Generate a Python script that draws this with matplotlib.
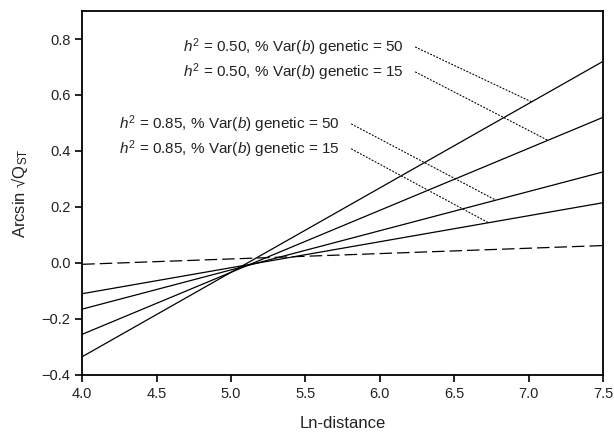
import matplotlib
matplotlib.use("Agg")
import matplotlib.pyplot as plt

plt.rcParams['font.family'] = ['Liberation Sans', 'DejaVu Sans']
plt.rcParams['mathtext.fontset'] = 'custom'
plt.rcParams['mathtext.rm'] = 'Liberation Sans'
plt.rcParams['mathtext.it'] = 'Liberation Sans:italic'

# line ends (Ln-distance 4.0 and 7.5)
x_ends = [4.0, 7.5]
h50_g50 = [-0.335, 0.72]
h50_g15 = [-0.255, 0.52]
h85_g50 = [-0.165, 0.325]
h85_g15 = [-0.11, 0.215]
neutral = [-0.005, 0.062]

labels = [r'$h^2$ = 0.50, % Var($b$) genetic = 50',
          r'$h^2$ = 0.50, % Var($b$) genetic = 15',
          r'$h^2$ = 0.85, % Var($b$) genetic = 50',
          r'$h^2$ = 0.85, % Var($b$) genetic = 15']
series = [h50_g50, h50_g15, h85_g50, h85_g15]
label_xy = [(6.16, 0.771), (6.16, 0.682), (5.73, 0.496), (5.73, 0.407)]
leader_x = [7.02, 7.13, 6.78, 6.73]

fig = plt.figure(figsize=(6.14, 4.41), dpi=100)
ax = fig.add_axes([0.134, 0.150, 0.848, 0.825])

for ys in series:
    ax.plot(x_ends, ys, color='black', lw=0.9)
ax.plot(x_ends, neutral, color='black', lw=0.9, dashes=(10, 4))

for lab, ys, (tx, ty), lx in zip(labels, series, label_xy, leader_x):
    ly = ys[0] + (ys[1] - ys[0]) * (lx - x_ends[0]) / (x_ends[1] - x_ends[0])
    ax.text(tx, ty, lab, ha='right', va='center', fontsize=11, color='#222222')
    ax.annotate('', xy=(lx, ly), xytext=(tx + 0.08, ty),
                arrowprops=dict(arrowstyle='-', linestyle=(0, (1, 2)),
                                color='black', lw=0.8, shrinkA=0, shrinkB=0))

ax.set_xlim(4.0, 7.5)
ax.set_ylim(-0.4, 0.9)
ax.set_xticks([4.0, 4.5, 5.0, 5.5, 6.0, 6.5, 7.0, 7.5])
ax.set_xticklabels(['4.0', '4.5', '5.0', '5.5', '6.0', '6.5', '7.0', '7.5'])
ax.set_yticks([-0.4, -0.2, 0.0, 0.2, 0.4, 0.6, 0.8])
ax.set_yticklabels(['\u22120.4', '\u22120.2', '0.0', '0.2', '0.4', '0.6', '0.8'])
ax.tick_params(direction='out', length=5, width=1.2, labelsize=10.5,
               colors='black', labelcolor='#222222')
for s in ax.spines.values():
    s.set_linewidth(1.3)

ax.set_xlabel('Ln-distance', fontsize=12, labelpad=11, color='#222222')
ax.set_ylabel('Arcsin \u221aQ$_{\\mathrm{ST}}$', fontsize=12, labelpad=8, color='#222222')

fig.savefig('out.png', dpi=100)
